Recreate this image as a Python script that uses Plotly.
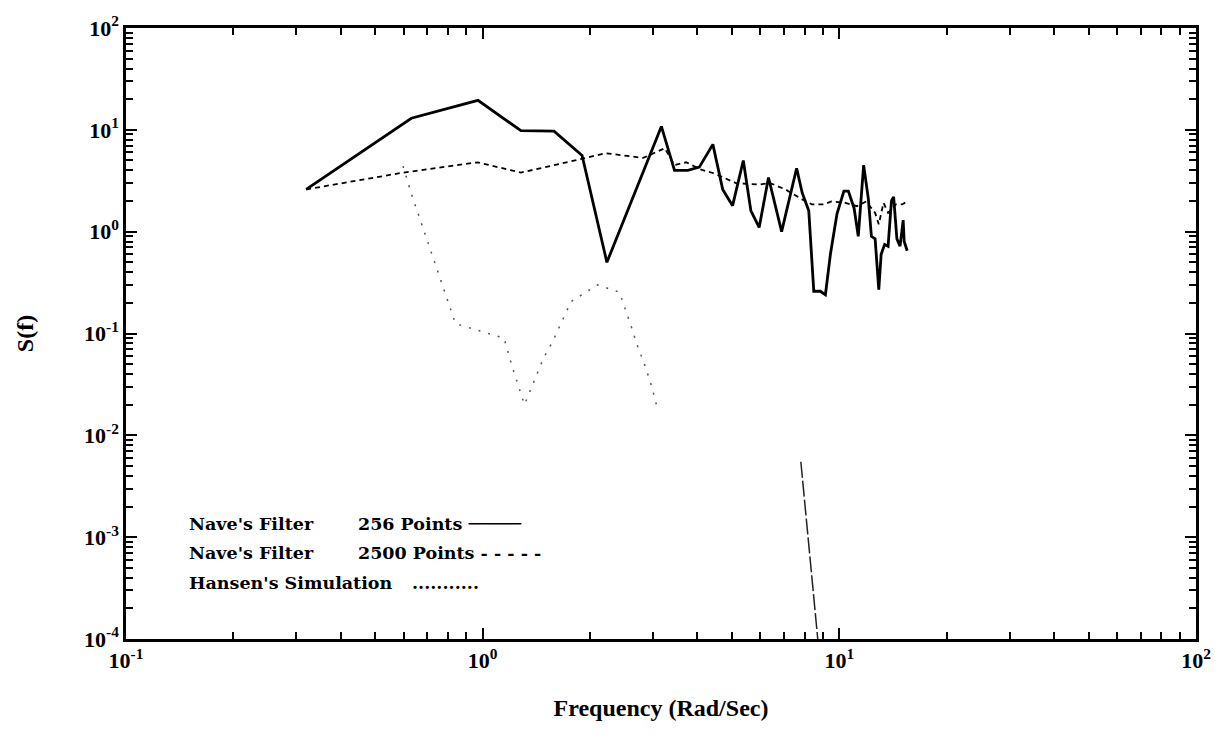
import plotly.graph_objects as go

# Frequency (rad/s) and spectral density S(f) for each series
nave256_freq = [0.32, 0.631, 0.97, 1.28, 1.585, 1.90, 2.23, 3.17, 3.45, 3.76, 4.05,
                4.42, 4.71, 5.02, 5.38, 5.65, 5.96, 6.33, 6.89, 7.59, 7.87, 8.21,
                8.48, 8.85, 9.14, 9.44, 9.85, 10.3, 10.6, 11.0, 11.3, 11.7, 12.06,
                12.3, 12.6, 12.9, 13.1, 13.4, 13.7, 14.0, 14.2, 14.5, 14.8, 15.1,
                15.2, 15.5]
nave256_s = [2.6, 13.0, 19.5, 9.8, 9.7, 5.6, 0.5, 10.8, 4.0, 4.0, 4.3,
             7.2, 2.6, 1.8, 5.0, 1.6, 1.1, 3.4, 1.0, 4.2, 2.4, 1.6,
             0.26, 0.26, 0.24, 0.6, 1.5, 2.5, 2.5, 1.7, 0.9, 4.5, 2.1,
             0.9, 0.85, 0.27, 0.6, 0.75, 0.72, 2.0, 2.2, 0.85, 0.72, 1.3,
             0.8, 0.65]

nave2500_freq = [0.32, 0.598, 0.968, 1.28, 1.90, 2.21, 2.82, 3.24, 3.45, 3.72, 4.10,
                 4.42, 4.76, 5.13, 5.96, 6.4, 7.06, 7.87, 8.39, 9.04, 9.5, 10.4,
                 11.2, 11.9, 12.6, 12.9, 13.3, 13.7, 14.4, 15.0, 15.5]
nave2500_s = [2.6, 3.8, 4.8, 3.8, 5.2, 5.9, 5.3, 6.6, 4.5, 4.8, 4.06,
              3.77, 3.37, 3.0, 2.9, 3.0, 2.6, 2.07, 1.85, 1.85, 1.98, 1.92,
              1.78, 1.98, 1.53, 1.18, 1.92, 1.53, 1.85, 1.85, 1.98]

hansen_freq = [0.598, 0.63, 0.692, 0.726, 0.766, 0.807, 0.839, 1.148, 1.21, 1.31,
               1.48, 1.57, 1.77, 2.1, 2.42, 2.64, 2.69, 2.86, 2.98, 3.07]
hansen_s = [4.4, 2.4, 0.91, 0.557, 0.33, 0.193, 0.125, 0.09, 0.047, 0.020,
            0.057, 0.083, 0.206, 0.3, 0.254, 0.104, 0.083, 0.047, 0.030, 0.020]
hansen_tail_freq = [7.8, 8.7]
hansen_tail_s = [0.0055, 0.0001]

x_decades = [0.1, 1, 10, 100]
x_ticktext = ["10<sup>-1</sup>", "10<sup>0</sup>", "10<sup>1</sup>", "10<sup>2</sup>"]
y_decades = [1e-4, 1e-3, 1e-2, 1e-1, 1, 10, 100]
y_ticktext = ["10<sup>-4</sup>", "10<sup>-3</sup>", "10<sup>-2</sup>", "10<sup>-1</sup>",
              "10<sup>0</sup>", "10<sup>1</sup>", "10<sup>2</sup>"]

legend_names = ["Nave's Filter", "Nave's Filter", "Hansen's Simulation"]
legend_details = ["256 Points ─────", "2500 Points - - - - -", "..........."]

FONT = "Liberation Serif"
LEGEND_FONT = "DejaVu Serif"


def minor_ticks(decades):
    vals = []
    for d in decades[:-1]:
        vals += [d * k for k in range(2, 10)]
    return vals


fig = go.Figure()
fig.add_trace(go.Scatter(x=nave256_freq, y=nave256_s, mode="lines",
                         line=dict(color="black", width=2.8)))
fig.add_trace(go.Scatter(x=nave2500_freq, y=nave2500_s, mode="lines",
                         line=dict(color="black", width=1.8, dash="5px,4px")))
fig.add_trace(go.Scatter(x=hansen_freq, y=hansen_s, mode="lines",
                         line=dict(color="#555555", width=1.5, dash="2px,8px")))
fig.add_trace(go.Scatter(x=hansen_tail_freq, y=hansen_tail_s, mode="lines",
                         line=dict(color="#222222", width=1.5, dash="16px,3px")))

axis_common = dict(
    type="log", showgrid=False, zeroline=False,
    showline=True, linecolor="black", linewidth=2.5, mirror="allticks",
    ticks="inside", ticklen=11, tickwidth=2, tickcolor="black",
    tickfont=dict(family=FONT, size=22, color="black"),
)

fig.update_xaxes(
    **axis_common, range=[-1, 2], tickmode="array", tickvals=x_decades,
    ticktext=[f"<b>{t}</b>" for t in x_ticktext],
    minor=dict(ticks="inside", ticklen=7, tickwidth=1.6, tickcolor="black",
               tickmode="array", tickvals=minor_ticks(x_decades)),
    title=dict(text="<b>Frequency (Rad/Sec)</b>",
               font=dict(family=FONT, size=24, color="black"), standoff=28),
)
fig.update_yaxes(
    **axis_common, range=[-4, 2], tickmode="array", tickvals=y_decades,
    ticktext=[f"<b>{t}</b>" for t in y_ticktext],
    minor=dict(ticks="inside", ticklen=7, tickwidth=1.6, tickcolor="black",
               tickmode="array", tickvals=minor_ticks(y_decades)),
    title=dict(text="<b>S(f)</b>", font=dict(family=FONT, size=24, color="black"),
               standoff=44),
)

# Legend block drawn as text inside the plotting area
row_y = [0.188, 0.140, 0.091]
detail_x = [0.2154, 0.2154, 0.2656]
for name, detail, yy, dx in zip(legend_names, legend_details, row_y, detail_x):
    fig.add_annotation(x=0.057, y=yy, xref="paper", yref="paper", xanchor="left",
                       yanchor="middle", showarrow=False, text=f"<b>{name}</b>",
                       font=dict(family=LEGEND_FONT, size=17.5, color="black"))
    fig.add_annotation(x=dx, y=yy, xref="paper", yref="paper", xanchor="left",
                       yanchor="middle", showarrow=False, text=f"<b>{detail}</b>",
                       font=dict(family=LEGEND_FONT, size=17.5, color="black"))

fig.update_layout(
    width=1223, height=736,
    margin=dict(l=126, r=20, t=24, b=97),
    paper_bgcolor="white", plot_bgcolor="white",
    showlegend=False,
)

fig.write_html("out.html")
